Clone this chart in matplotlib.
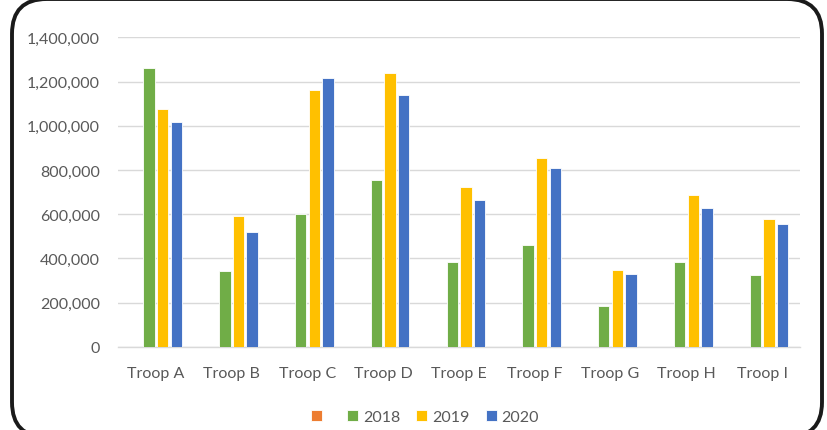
import numpy as np
import matplotlib.pyplot as plt
from matplotlib.patches import FancyBboxPatch
from matplotlib.ticker import FuncFormatter

plt.rcParams['font.family'] = ['Lato', 'DejaVu Sans']

troops = ['Troop A', 'Troop B', 'Troop C', 'Troop D', 'Troop E',
          'Troop F', 'Troop G', 'Troop H', 'Troop I']
series_names = [' ', '2018', '2019', '2020']
blank = [0, 0, 0, 0, 0, 0, 0, 0, 0]
y2018 = [1260000, 344000, 602000, 753000, 382000, 462000, 183000, 385000, 325000]
y2019 = [1076000, 593000, 1163000, 1238000, 722000, 856000, 347000, 688000, 577000]
y2020 = [1016000, 521000, 1218000, 1141000, 663000, 810000, 330000, 626000, 554000]
colors = ['#ED7D31', '#70AD47', '#FFC000', '#4472C4']

fig = plt.figure(figsize=(8.27, 4.31), dpi=100)
ax = fig.add_axes([0.1427, 0.1933, 0.8247, 0.7174])

x = np.arange(len(troops))
slot = 0.18
width = 0.15
handles = []
for i, (vals, name, col) in enumerate(zip([blank, y2018, y2019, y2020], series_names, colors)):
    b = ax.bar(x + (i - 1.5) * slot, vals, width, color=col, edgecolor='white',
               linewidth=0.6, label=name, zorder=3)
    handles.append(b)

ax.set_xlim(-0.5, len(troops) - 0.5)
ax.set_ylim(0, 1400000)
ax.set_yticks(np.arange(0, 1400001, 200000))
ax.yaxis.set_major_formatter(FuncFormatter(lambda v, p: f'{int(v):,}'))
ax.set_xticks(x)
ax.set_xticklabels(troops)
ax.grid(axis='y', color='#d9d9d9', linewidth=1, zorder=0)
for s in ['top', 'right', 'left']:
    ax.spines[s].set_visible(False)
ax.spines['bottom'].set_color('#d9d9d9')
ax.spines['bottom'].set_linewidth(1)
ax.tick_params(length=0, labelsize=11.5, colors='#595959')
ax.tick_params(axis='y', pad=13)
ax.tick_params(axis='x', pad=14)

fig.legend(handles, series_names, loc='center', bbox_to_anchor=(425 / 827, 1 - 418 / 431),
           ncol=4, frameon=False, fontsize=11.5, labelcolor='#595959',
           handlelength=0.7, handleheight=0.7, handletextpad=0.3, columnspacing=1.0)

border = FancyBboxPatch((12 / 827, -7 / 431), 810 / 827, 438 / 431,
                        boxstyle='round,pad=0,rounding_size=0.042',
                        transform=fig.transFigure, fill=False,
                        edgecolor='#1a1a1a', linewidth=2.8, mutation_aspect=827 / 431)
fig.patches.append(border)

fig.savefig('out.png', dpi=100)
